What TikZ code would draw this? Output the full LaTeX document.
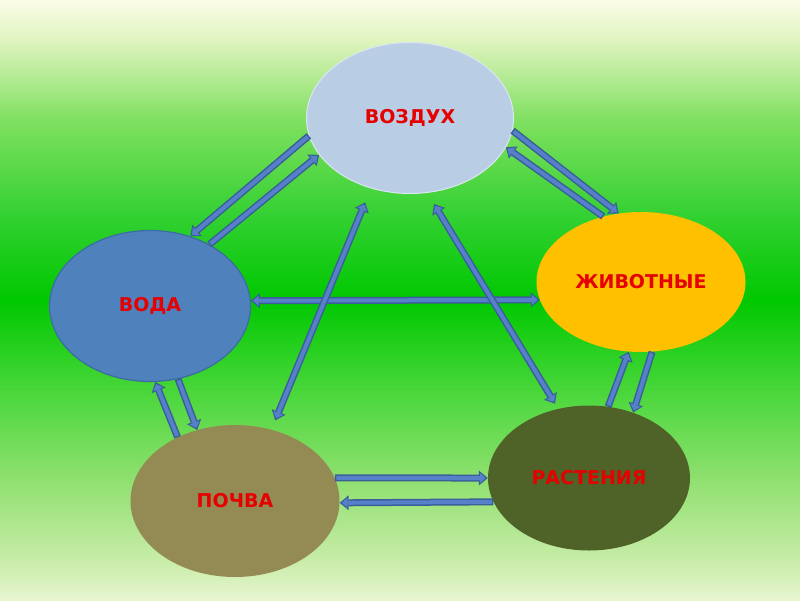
\documentclass[tikz,border=0pt]{standalone}
\usepackage{fontspec}
\setmainfont{DejaVu Sans}
\usetikzlibrary{shapes.geometric,arrows.meta}

\definecolor{bgtop}{HTML}{FCFCE8}
\definecolor{bgpale}{HTML}{E0F4C0}
\definecolor{bglight}{HTML}{80E060}
\definecolor{bgmid}{HTML}{30D030}
\definecolor{bggreen}{HTML}{00C800}
\definecolor{bglow}{HTML}{50D840}
\definecolor{bgsoft}{HTML}{90E070}
\definecolor{bgfoot}{HTML}{C8ECA8}
\definecolor{bgbottom}{HTML}{E8F6D0}
\definecolor{airblue}{HTML}{B9CDE5}
\definecolor{airedge}{HTML}{DCE6F2}
\definecolor{waterblue}{HTML}{4F81BD}
\definecolor{wateredge}{HTML}{3D6BA3}
\definecolor{animalgold}{HTML}{FFC000}
\definecolor{soilbrown}{HTML}{948A54}
\definecolor{plantgreen}{HTML}{4F6228}
\definecolor{labelred}{HTML}{E60000}
\definecolor{arrowfill}{HTML}{5680CA}
\definecolor{arrowedge}{HTML}{3A5E98}

\pgfdeclareverticalshading{meadow}{100bp}{color(0bp)=(bgbottom); color(25bp)=(bgbottom);
  color(28.3bp)=(bgfoot); color(35bp)=(bgsoft); color(41.7bp)=(bglow);
  color(50bp)=(bggreen); color(56.7bp)=(bgmid); color(65bp)=(bglight);
  color(71.7bp)=(bgpale); color(75bp)=(bgtop); color(100bp)=(bgtop)}

\begin{document}
\begin{tikzpicture}[x=1pt,y=-1pt,
    blob/.style={ellipse, inner sep=0pt, text=labelred,
      font=\fontsize{19}{22}\selectfont\bfseries},
    flow/.style={draw=arrowedge, line width=7pt,
      -{Triangle[length=9pt,width=15pt,line width=0pt]},
      postaction={draw=arrowfill, line width=4pt, shorten <=1.5pt, shorten >=2.3pt,
        -{Triangle[length=5.5pt,width=10.5pt,line width=0pt]}}},
    flowtwo/.style 2 args={draw=arrowedge, line width=7pt,
      {Triangle[length=9pt,width=15pt,line width=0pt]}-{Triangle[length=9pt,width=15pt,line width=0pt]},
      shorten <=#1, shorten >=#2,
      postaction={draw=arrowfill, line width=4pt, shorten <=#1+2.3pt, shorten >=#2+2.3pt,
        {Triangle[length=5.5pt,width=10.5pt,line width=0pt]}-{Triangle[length=5.5pt,width=10.5pt,line width=0pt]}}}]
  \useasboundingbox (0,0) rectangle (800,600);
  \shade[shading=meadow] (0,0) rectangle (800,600);

  \node[blob, fill=airblue, draw=airedge, line width=1pt,
    minimum width=207pt, minimum height=151pt] (vozdukh) at (410,118) {ВОЗДУХ};
  \node[blob, fill=animalgold, minimum width=209pt, minimum height=140pt]
    (zhivotnye) at (641,282) {ЖИВОТНЫЕ};
  \node[blob, fill=waterblue, draw=wateredge, line width=1.2pt,
    minimum width=201pt, minimum height=151pt] (voda) at (150,306) {ВОДА};
  \node[blob, fill=soilbrown, minimum width=209pt, minimum height=152pt]
    (pochva) at (235,501) {ПОЧВА};
  \node[blob, fill=plantgreen, minimum width=202pt, minimum height=145pt]
    (rasteniya) at (589,478) {РАСТЕНИЯ};

  \draw[flow] (vozdukh.190) -- (voda.60);
  \draw[flow] (voda.46) -- (vozdukh.202);
  \draw[flow] (vozdukh.353) -- (zhivotnye.108);
  \draw[flow] (zhivotnye.120) -- (vozdukh.343);
  \draw[flow] (pochva.132) -- (voda.274);
  \draw[flow] (voda.291) -- (pochva.118);
  \draw[flow] (rasteniya.75) -- (zhivotnye.260);
  \draw[flow] (zhivotnye.279) -- (rasteniya.56);
  \draw[flow] (pochva.13) -- (rasteniya.180);
  \draw[flow] (rasteniya.194) -- (pochva.359);

  \draw[flowtwo={0pt}{0pt}] (voda.3) -- (zhivotnye.190);
  \draw[flowtwo={15pt}{10pt}] (vozdukh.241) -- (pochva.63);
  \draw[flowtwo={13pt}{6pt}] (vozdukh.283) -- (rasteniya.114);
\end{tikzpicture}
\end{document}
